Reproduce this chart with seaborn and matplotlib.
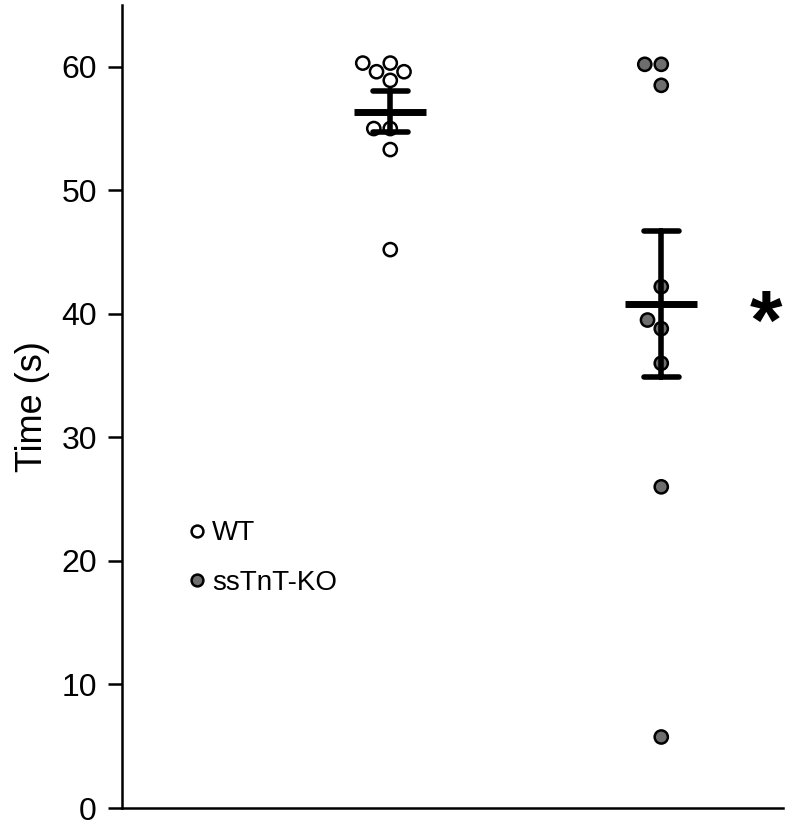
import numpy as np
import pandas as pd
import matplotlib
matplotlib.use("Agg")
import matplotlib.pyplot as plt
import seaborn as sns
from matplotlib.lines import Line2D

sns.set_theme(style="ticks")
plt.rcParams['font.family'] = ['Liberation Sans', 'DejaVu Sans']
plt.rcParams['text.color'] = 'black'
plt.rcParams['axes.labelcolor'] = 'black'

groups = ["WT", "ssTnT-KO"]
wt_time = [60.3, 60.3, 59.6, 59.6, 58.9, 55.0, 55.0, 53.3, 45.2]
ko_time = [60.2, 60.2, 58.5, 42.2, 39.5, 38.8, 36.0, 26.0, 5.75]
y_ticks = [0, 10, 20, 30, 40, 50, 60]

df = pd.DataFrame({
    "group": ["WT"] * len(wt_time) + ["ssTnT-KO"] * len(ko_time),
    "time": wt_time + ko_time,
})

fig = plt.figure(figsize=(8, 8.23), dpi=100)
ax = fig.add_axes([0.1525, 0.0182, 0.979 - 0.1525, 0.9939 - 0.0182])

pal = {"WT": "white", "ssTnT-KO": "#6e6e6e"}
sns.swarmplot(data=df, x="group", y="time", hue="group", palette=pal, order=groups,
              size=9.5, linewidth=1.8, edgecolor="black", legend=False, ax=ax, zorder=3)

sns.pointplot(data=df, x="group", y="time", order=groups, errorbar="se",
              color="black", linestyle="none", marker="_", markersize=52,
              markeredgewidth=5, capsize=0.13, err_kws={"linewidth": 4},
              ax=ax, zorder=4)

ax.set_xlim(-0.99, 1.45)
ax.set_ylim(0, 65)
ax.set_yticks(y_ticks)
ax.set_xticks([])
ax.set_xlabel("")
ax.set_ylabel("Time (s)", fontsize=26, labelpad=8)
ax.tick_params(axis="y", labelsize=23, length=10, width=1.8, pad=8, colors="black")
for s in ["top", "right"]:
    ax.spines[s].set_visible(False)
for s in ["left", "bottom"]:
    ax.spines[s].set_linewidth(1.8)
    ax.spines[s].set_color("black")

ko_mean = float(np.mean(ko_time))
ax.annotate("*", xy=(1.387, ko_mean), xytext=(0, -32), textcoords="offset points",
            fontsize=60, fontweight="bold", ha="center", va="baseline")

handles = [
    Line2D([], [], marker="o", linestyle="none", markersize=8.5, markerfacecolor="white",
           markeredgecolor="black", markeredgewidth=1.8, label="WT"),
    Line2D([], [], marker="o", linestyle="none", markersize=8.5, markerfacecolor="#6e6e6e",
           markeredgecolor="black", markeredgewidth=1.8, label="ssTnT-KO"),
]
ax.legend(handles=handles, loc="upper left", bbox_to_anchor=(0.075, 0.372), frameon=False,
          fontsize=20, handletextpad=0.05, labelspacing=0.85, handlelength=1.0, borderaxespad=0)

fig.savefig("out.png", dpi=100)
